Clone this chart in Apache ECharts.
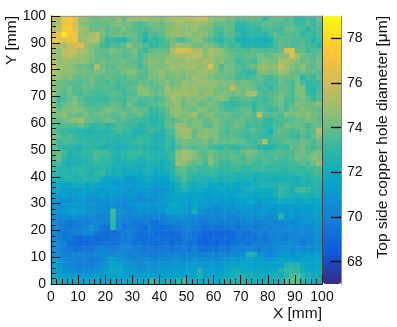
<!DOCTYPE html>
<html>
<head>
<meta charset="utf-8">
<style>html,body{margin:0;padding:0;background:#fff}#chart{width:397px;height:327px}</style>
<script src="https://cdn.jsdelivr.net/npm/echarts@6/dist/echarts.min.js"></script>
</head>
<body>
<div id="chart"></div>
<script>
// cell lower edges in mm, 2 mm bins
var xBins = [0,2,4,6,8,10,12,14,16,18,20,22,24,26,28,30,32,34,36,38,40,42,44,46,48,50,52,54,56,58,60,62,64,66,68,70,72,74,76,78,80,82,84,86,88,90,92,94,96,98];
var yBins = [98,96,94,92,90,88,86,84,82,80,78,76,74,72,70,68,66,64,62,60,58,56,54,52,50,48,46,44,42,40,38,36,34,32,30,28,26,24,22,20,18,16,14,12,10,8,6,4,2,0];
var barTicks = [68,70,72,74,76,78];
// top row first
var diameter = [
[75.6,75.4,77.0,77.4,76.6,75.0,74.6,74.2,73.9,74.2,74.4,74.0,74.6,73.9,75.0,74.8,74.8,74.9,74.6,74.5,74.4,74.7,75.3,75.1,75.3,75.4,75.5,75.8,75.8,74.6,74.4,74.5,74.2,74.2,73.7,73.8,73.9,74.0,74.0,72.9,73.8,74.0,74.0,73.6,73.7,73.0,73.0,73.4,73.2,74.0],
[75.0,75.2,76.9,77.2,76.2,74.8,74.3,74.2,74.0,74.0,73.9,74.2,74.5,74.0,74.3,73.8,73.6,73.9,74.2,74.2,74.0,74.5,74.4,75.0,74.9,74.8,75.0,75.0,74.6,74.4,73.9,74.0,73.8,73.8,73.0,72.9,73.2,73.3,73.5,73.8,73.9,73.6,73.5,73.6,73.8,73.1,73.2,73.7,73.0,73.7],
[75.2,75.6,77.4,77.6,76.4,75.0,74.8,74.0,73.9,74.3,73.5,74.0,73.9,74.4,73.9,73.7,73.6,73.5,73.8,74.1,73.9,74.4,74.7,74.8,74.3,74.6,74.9,74.4,74.3,74.1,73.6,73.4,74.0,73.7,72.6,72.7,73.0,73.1,73.1,73.4,73.6,73.4,73.3,73.9,73.9,73.7,73.3,72.8,73.4,73.5],
[76.4,76.6,78.4,77.0,77.0,74.9,74.6,74.9,75.4,74.3,73.8,74.0,74.2,73.9,74.1,73.9,73.5,72.9,73.6,73.6,73.8,74.4,74.6,75.0,74.5,74.9,74.4,74.7,74.6,74.0,73.4,73.2,73.8,73.6,73.2,72.6,72.9,73.0,73.0,72.8,73.3,73.8,73.4,73.7,73.6,73.6,73.0,73.4,73.1,73.4],
[77.0,76.6,76.6,76.8,77.2,74.8,75.0,75.3,75.5,73.9,73.0,73.2,73.0,72.7,73.5,73.9,73.4,72.3,73.3,73.0,73.3,73.8,74.2,73.6,73.4,74.0,74.5,74.6,73.8,73.5,73.0,72.8,73.3,73.4,72.4,72.3,72.3,72.4,72.3,72.2,72.4,73.4,73.8,73.7,73.6,73.4,73.6,73.2,72.7,73.3],
[75.6,75.4,75.0,75.8,76.0,76.4,75.0,74.4,74.2,73.4,73.2,73.6,73.4,73.8,74.8,74.0,73.9,73.6,73.0,73.2,73.4,73.6,74.4,75.0,74.6,74.5,74.2,74.0,74.5,74.2,73.9,73.3,73.6,73.2,73.4,72.7,72.6,72.8,72.6,72.5,73.0,73.4,73.9,73.6,73.4,73.5,73.7,73.4,73.3,72.9],
[75.0,74.8,75.6,75.7,75.9,75.2,75.0,74.4,74.0,73.7,74.0,74.4,74.1,73.8,74.0,74.4,73.6,73.3,73.8,73.9,74.0,73.9,75.2,76.1,76.3,76.0,75.2,75.4,74.3,75.3,74.8,74.6,73.9,73.7,73.5,73.6,73.4,73.8,73.6,73.5,73.7,73.4,73.9,76.0,76.6,74.0,73.9,73.2,73.5,73.6],
[75.2,74.6,75.4,75.8,75.3,74.9,74.6,74.5,73.9,73.8,73.6,73.9,74.0,73.6,73.8,74.1,73.3,74.0,74.2,74.2,74.3,74.4,74.8,75.2,75.0,75.3,75.6,75.3,74.6,75.0,74.7,74.5,74.3,73.9,73.7,73.6,74.0,73.8,74.2,73.9,73.9,74.2,74.4,74.4,76.2,75.0,74.1,73.8,73.6,74.0],
[75.4,74.8,74.9,74.7,74.8,74.6,74.5,74.1,73.9,74.3,74.0,73.9,74.0,74.2,73.9,73.7,73.5,74.2,74.6,74.5,74.3,75.0,74.8,74.6,74.8,75.0,74.9,74.8,75.3,75.1,74.4,74.8,74.0,74.0,73.2,73.5,73.6,73.3,74.2,74.5,74.3,74.2,75.3,75.2,74.7,74.4,73.9,74.1,73.8,74.2],
[76.2,75.0,74.8,74.6,74.3,74.0,74.1,73.6,75.6,74.2,73.8,73.6,74.1,74.0,73.9,74.0,73.3,73.8,74.4,74.3,74.2,74.5,75.2,74.7,74.9,75.0,75.2,74.6,74.8,76.4,74.5,73.4,74.3,74.0,73.7,73.5,73.8,73.9,74.7,74.9,74.6,74.7,75.8,74.9,74.3,74.2,74.6,74.0,73.7,74.2],
[75.4,74.9,74.7,74.6,74.4,74.2,74.1,74.0,74.3,74.2,73.8,74.0,73.8,74.2,74.5,74.3,73.9,73.7,74.1,74.5,74.9,74.4,74.5,74.6,74.4,74.8,74.5,74.9,75.0,74.6,74.4,73.9,74.2,74.1,73.5,73.3,73.0,73.2,74.2,74.5,74.2,74.3,74.9,74.8,74.0,73.8,74.2,73.8,74.0,73.6],
[75.0,74.7,74.2,74.5,73.9,73.8,73.9,74.3,73.8,73.7,73.9,73.8,73.6,73.5,73.9,74.0,73.6,73.8,74.3,74.2,74.6,74.1,74.2,74.4,74.2,74.5,75.0,74.6,74.7,74.3,74.0,74.2,73.9,73.8,73.3,73.5,73.3,73.6,73.9,73.6,73.3,73.7,74.2,73.9,74.0,74.1,72.8,73.5,73.1,73.9],
[74.5,74.1,73.9,73.7,73.8,73.6,73.8,74.2,73.7,73.6,73.3,73.8,73.4,73.7,73.5,73.6,74.1,73.9,73.7,74.0,74.2,74.5,74.0,74.3,74.8,74.6,74.7,74.9,75.0,74.6,74.7,74.3,74.3,74.4,73.9,74.2,74.0,73.8,73.6,73.3,73.5,73.3,74.0,73.6,73.3,74.3,73.4,73.0,73.1,73.3],
[74.6,74.1,73.8,74.2,73.5,73.7,74.0,73.9,73.5,73.6,73.7,73.4,73.2,73.3,73.7,73.9,74.7,74.3,73.9,73.7,73.9,75.0,74.4,74.6,75.0,74.8,74.9,74.7,74.5,74.8,74.4,74.0,74.2,75.8,74.2,74.0,74.2,73.9,73.3,73.5,73.0,73.6,73.8,73.9,73.4,74.3,74.4,73.0,72.9,73.4],
[75.0,73.9,73.7,74.0,73.6,73.3,73.8,73.5,73.3,73.4,73.5,73.8,73.7,73.3,73.5,73.7,74.3,74.7,74.2,73.9,74.1,74.8,75.0,75.2,75.0,75.1,74.9,74.4,74.7,74.8,74.2,74.3,74.3,74.1,74.3,74.2,75.0,75.2,73.8,73.4,73.7,73.8,74.2,73.9,73.5,74.4,74.3,73.3,73.0,73.6],
[74.4,73.2,73.5,73.9,74.3,73.6,73.3,73.4,73.1,73.2,73.2,73.6,73.3,73.2,73.8,73.9,73.6,73.5,73.7,73.3,73.6,74.2,75.0,74.7,74.2,74.6,74.3,74.6,74.3,74.0,74.3,74.6,74.2,73.4,73.6,73.8,73.9,73.6,73.4,73.2,73.5,74.0,74.2,73.5,73.4,74.0,74.2,73.8,73.1,73.6],
[74.6,73.5,73.9,74.1,74.5,73.9,73.6,73.3,73.4,73.5,73.6,73.9,73.8,73.3,74.2,73.7,73.3,73.4,73.6,73.7,73.9,74.3,74.4,74.8,74.0,74.3,74.5,73.8,74.1,74.3,74.0,73.5,73.2,73.0,73.2,73.4,73.5,73.0,73.5,73.3,73.6,73.7,74.1,73.3,73.7,74.4,74.2,74.0,74.2,74.6],
[74.8,73.9,74.2,74.3,74.5,74.4,74.0,73.8,73.6,74.0,74.3,74.2,74.0,73.8,73.8,74.1,73.7,73.8,73.2,73.3,73.5,73.9,74.7,74.9,74.4,74.1,73.9,74.5,74.3,74.0,74.2,73.7,73.4,73.3,73.6,73.8,73.9,73.1,73.7,73.5,73.2,73.3,73.9,73.6,74.2,74.0,74.5,74.2,73.9,73.7],
[74.3,74.3,74.6,74.0,74.1,73.8,74.2,73.7,73.9,74.1,74.0,73.7,73.8,74.1,73.6,73.8,73.9,73.5,72.9,73.0,73.3,73.8,74.4,74.7,74.2,74.6,75.2,74.0,74.3,74.4,74.0,73.9,74.1,73.7,73.6,73.8,74.0,73.5,76.0,73.8,73.6,73.8,73.4,74.3,74.0,74.5,74.3,74.6,74.0,74.0],
[74.0,73.8,74.1,74.3,74.6,75.0,74.1,73.9,73.5,73.8,74.2,73.9,73.6,73.7,73.5,73.3,73.3,73.2,72.8,72.7,73.2,73.8,73.6,74.0,74.4,74.1,74.3,74.2,73.9,74.0,74.4,73.9,73.7,73.8,73.9,74.0,73.6,73.5,73.6,73.3,73.0,73.3,73.7,73.4,73.8,74.0,73.9,74.3,74.1,73.7],
[73.7,73.5,73.7,73.6,73.5,73.9,73.6,72.9,73.0,73.3,72.8,73.1,73.6,73.3,73.2,73.2,72.8,73.0,73.1,72.9,73.0,73.8,74.0,74.9,74.7,74.2,74.3,74.4,73.8,73.6,74.3,74.0,73.5,73.8,74.1,73.7,73.3,73.5,73.4,72.9,73.1,73.6,73.5,74.2,73.9,74.1,73.8,73.4,73.9,74.0],
[74.0,73.4,73.2,72.9,73.0,72.8,72.7,72.6,72.9,72.8,72.7,73.1,73.5,73.2,73.1,72.6,72.6,72.8,73.3,73.0,72.6,73.3,73.6,74.8,75.0,75.0,74.0,74.3,74.6,74.3,74.2,73.8,73.4,73.9,73.7,73.5,73.5,73.7,73.4,73.1,72.3,73.6,73.9,73.7,73.4,73.6,74.0,73.6,73.8,75.5],
[74.3,73.9,73.3,73.6,73.2,72.9,72.8,73.0,72.7,72.9,72.9,73.0,72.8,72.9,73.0,72.6,73.0,73.2,72.7,72.6,72.5,73.2,73.4,74.5,74.8,74.9,73.9,74.5,74.8,74.3,74.4,73.7,73.6,73.8,73.5,73.4,73.2,73.4,73.3,72.9,73.2,73.7,73.6,73.5,73.4,73.2,73.8,73.3,73.9,74.6],
[74.2,73.2,73.5,73.3,73.4,73.1,73.2,73.0,72.9,73.1,72.8,72.7,72.6,72.8,72.9,73.1,73.3,73.1,72.9,72.5,72.6,73.2,73.0,73.9,74.2,74.0,74.1,73.9,74.3,73.7,74.2,73.9,73.9,74.0,73.9,73.8,73.4,73.2,73.6,75.5,73.2,73.4,73.6,74.0,73.7,73.8,74.1,73.9,73.4,73.9],
[73.6,73.1,72.7,72.9,72.8,72.6,72.9,73.0,72.7,72.4,72.5,72.7,72.3,72.5,72.8,72.7,72.9,72.6,72.5,72.4,72.6,73.1,72.9,73.6,74.0,73.9,73.5,73.7,73.9,73.4,73.2,73.0,73.4,73.0,73.1,73.3,73.6,73.4,72.8,72.6,72.5,73.0,73.3,73.1,74.0,73.8,74.2,73.6,73.4,73.7],
[73.8,73.9,73.4,72.5,72.8,72.9,73.0,73.2,73.5,73.4,73.3,72.8,72.6,72.9,73.1,73.2,73.3,72.9,72.8,72.5,72.6,73.0,73.2,74.8,75.0,74.8,74.4,73.8,73.7,74.1,73.9,73.5,73.6,73.7,73.4,74.0,74.4,74.2,73.7,73.3,73.5,73.6,73.7,73.6,73.4,74.0,74.2,73.7,74.1,74.3],
[73.5,74.0,73.0,72.4,72.6,72.7,72.8,73.1,73.4,73.0,73.2,72.7,72.4,72.8,73.0,72.9,72.6,72.7,72.9,72.6,72.5,72.8,73.3,74.6,75.0,74.7,74.4,74.1,73.6,74.4,73.8,73.6,73.5,73.9,73.7,73.4,74.0,73.7,73.4,73.6,73.3,73.7,73.4,73.3,73.6,74.2,73.8,74.1,74.6,74.2],
[73.2,73.4,72.6,72.2,72.4,72.5,72.6,72.9,73.2,73.0,72.9,72.6,72.1,72.3,72.6,72.3,72.4,72.3,72.5,72.4,72.0,72.4,73.0,75.0,74.6,74.2,73.8,73.9,73.3,74.4,73.6,73.2,73.1,73.5,73.6,73.4,73.7,73.3,73.2,73.5,73.4,73.2,73.1,73.1,73.3,73.5,73.8,73.5,74.1,74.7],
[73.3,72.8,72.7,72.6,72.9,73.0,72.8,72.5,72.6,73.0,72.7,72.2,72.3,72.0,72.2,72.3,72.0,72.4,72.3,71.9,72.0,72.5,72.7,73.7,73.9,73.4,73.5,73.2,73.1,73.4,73.3,73.0,73.1,73.2,73.3,73.0,72.9,73.2,73.3,73.1,73.0,73.2,73.0,72.9,73.3,73.1,73.0,73.4,73.3,73.6],
[72.9,72.6,72.8,72.5,72.7,72.9,72.6,72.4,72.9,73.1,72.3,72.1,72.4,71.9,72.0,71.8,71.9,72.2,72.1,71.7,71.9,72.0,72.6,73.4,73.6,73.3,73.2,72.8,73.0,73.1,73.0,72.7,72.8,72.9,72.6,72.7,72.8,72.5,72.4,72.6,72.7,72.6,72.8,72.5,72.7,72.9,73.0,72.9,73.2,73.3],
[72.4,72.2,72.5,72.7,72.4,72.6,72.8,72.6,72.8,72.0,71.9,71.5,71.7,71.6,70.9,71.2,71.5,71.9,72.0,71.6,71.3,71.5,72.3,72.7,73.5,73.0,72.6,72.8,72.5,72.3,72.6,72.2,72.4,72.5,72.2,72.4,72.3,72.0,72.3,72.1,72.4,72.0,72.3,72.2,72.4,72.1,72.6,72.5,72.9,73.0],
[71.8,71.9,71.7,71.6,72.0,72.1,71.6,71.9,71.7,71.5,71.4,71.2,71.0,71.1,71.3,71.0,71.4,71.5,71.3,71.2,71.1,71.4,71.6,72.2,72.9,72.3,72.0,72.2,72.4,71.7,72.0,71.6,71.9,72.0,71.5,72.0,71.8,72.2,72.4,72.6,72.4,72.6,72.9,72.8,72.5,72.3,72.6,72.4,72.7,72.8],
[71.6,71.8,71.3,71.2,71.5,71.3,71.5,71.6,71.2,71.0,71.2,71.4,71.2,71.0,70.9,71.1,71.2,71.0,70.9,70.6,70.8,71.1,71.3,72.0,72.3,72.0,71.7,71.9,71.5,71.4,71.6,71.8,71.5,71.7,71.4,71.9,72.3,72.0,72.0,71.8,71.9,72.2,73.1,72.6,72.4,73.3,73.5,73.1,72.6,72.6],
[71.3,71.2,71.4,71.0,71.2,71.4,71.2,71.0,71.1,71.3,71.0,71.2,71.0,70.7,71.0,70.8,70.6,70.9,71.1,70.8,71.0,71.3,71.5,71.9,71.7,71.5,71.4,71.6,71.2,71.3,71.5,71.2,71.6,71.4,71.7,72.0,71.8,71.6,71.9,72.0,71.7,72.3,73.0,72.7,72.4,72.1,72.5,72.4,72.3,72.4],
[71.0,70.8,70.6,70.5,70.9,71.1,70.8,70.6,70.5,70.7,70.6,70.8,70.5,70.4,70.7,70.6,70.3,70.6,70.5,70.7,71.0,71.3,71.4,71.6,71.4,71.2,71.5,71.3,71.4,71.0,71.2,70.9,71.3,71.1,71.4,71.3,71.7,71.5,71.2,71.3,71.5,71.6,72.2,71.8,71.9,71.6,71.8,71.9,71.6,71.8],
[70.9,70.7,70.9,71.1,71.2,71.0,70.8,70.9,70.6,70.4,70.3,70.6,70.4,70.2,70.5,70.7,70.9,71.0,70.8,70.9,70.7,71.2,71.7,71.6,71.2,71.0,71.6,71.2,71.0,70.9,70.6,70.8,71.0,70.7,71.1,70.9,71.2,71.0,70.8,71.1,71.3,71.0,71.3,71.2,71.4,71.2,71.5,71.3,71.4,71.6],
[71.0,70.9,71.1,71.5,71.6,71.3,71.0,70.8,70.5,70.7,70.5,73.3,70.8,70.6,70.3,70.5,70.8,70.6,70.7,70.5,70.9,71.6,71.4,71.5,71.3,71.0,72.3,70.9,70.6,70.4,70.3,70.5,70.6,70.8,70.5,70.9,71.0,70.7,70.9,71.1,70.8,71.0,71.2,71.0,71.3,71.0,71.2,71.1,71.4,71.5],
[70.6,70.3,70.5,70.4,70.6,70.3,70.2,70.5,70.1,69.9,70.3,73.2,70.6,70.2,70.0,70.2,70.3,70.1,69.9,70.2,70.0,70.3,70.5,70.6,70.8,70.5,70.4,70.2,70.0,70.2,70.1,70.3,70.4,70.0,70.2,70.4,70.7,70.5,70.9,70.6,70.4,70.8,72.8,70.9,71.1,70.7,70.9,71.0,71.3,71.2],
[70.7,70.1,69.9,69.6,69.8,70.0,69.7,70.1,70.3,70.2,70.0,73.0,70.2,69.7,69.9,69.6,69.8,70.0,69.5,69.4,69.7,69.9,70.1,70.0,70.3,70.2,70.0,69.8,69.7,69.9,70.1,69.8,70.0,70.2,69.8,70.1,70.3,70.0,69.9,70.3,70.5,70.1,70.3,70.5,70.2,70.6,70.8,71.0,70.7,71.1],
[70.5,70.0,69.7,69.5,70.0,69.8,70.1,71.2,70.2,69.4,69.3,72.8,70.3,69.5,69.8,69.7,69.4,69.2,69.7,69.3,69.1,69.3,69.5,69.7,70.0,70.2,69.8,69.6,69.4,69.6,69.3,69.5,69.7,69.9,69.6,69.8,70.0,69.7,69.9,70.2,70.0,70.3,70.1,70.4,70.6,70.3,70.5,70.4,70.6,70.9],
[70.4,70.0,69.6,69.8,69.9,70.1,70.4,70.2,69.5,69.3,69.0,69.1,69.3,69.7,69.9,69.6,69.3,69.4,69.6,69.0,69.1,69.2,69.0,69.4,69.7,69.9,69.4,69.3,68.9,68.8,68.9,68.7,68.8,69.2,69.5,69.6,69.3,69.7,70.0,69.8,70.1,70.0,70.3,70.2,70.0,70.3,70.6,70.2,70.4,70.7],
[70.6,70.1,69.7,69.8,69.3,69.0,69.1,69.3,69.0,69.2,69.1,69.3,69.5,69.8,70.0,69.6,69.3,69.2,69.4,69.5,69.2,69.4,69.3,69.1,69.6,69.8,69.4,69.0,68.8,69.0,69.2,69.0,69.3,69.1,69.6,69.4,69.7,69.3,69.8,69.5,69.9,70.2,70.0,69.8,70.2,70.4,69.9,70.1,70.3,70.5],
[70.8,70.3,70.0,69.4,69.1,68.9,69.0,69.2,69.3,69.5,69.6,69.4,69.7,70.0,69.9,69.5,69.7,69.4,69.3,69.1,69.3,69.6,69.1,69.5,69.7,69.3,69.6,69.1,68.9,69.1,68.8,69.3,69.0,69.4,69.5,69.7,69.4,69.8,69.9,69.7,70.0,70.3,70.1,70.3,70.5,70.2,69.6,70.1,70.4,70.6],
[70.7,70.2,69.8,69.5,69.3,69.4,69.7,69.6,69.8,70.2,70.0,69.7,70.0,70.3,70.2,69.9,69.8,69.6,69.7,69.5,69.6,69.7,69.5,69.7,69.9,69.5,70.1,69.4,69.2,69.4,69.3,69.7,69.6,69.9,70.2,70.0,70.3,70.0,69.8,70.2,70.1,70.4,70.6,70.5,70.3,70.5,70.3,70.6,70.4,70.7],
[70.9,70.5,70.1,69.8,70.0,70.2,69.9,70.1,70.3,70.6,70.4,70.2,70.5,70.3,70.0,70.2,70.0,69.9,69.7,69.9,69.8,70.1,69.9,70.2,70.0,70.4,70.3,70.0,69.9,70.2,70.0,70.3,70.1,70.5,70.4,70.6,72.5,72.4,70.7,70.5,70.2,70.7,70.9,71.0,70.7,71.1,70.8,71.5,71.0,71.2],
[71.2,70.8,70.3,70.1,70.3,70.0,69.9,69.7,70.0,70.2,71.0,71.2,70.8,70.6,70.4,70.1,70.3,70.5,70.2,70.4,70.5,70.3,70.4,70.6,70.3,70.5,70.8,70.5,70.7,70.6,70.4,70.7,70.9,71.2,71.0,71.3,71.5,71.4,71.2,71.0,70.8,71.2,71.6,71.3,71.5,71.2,71.4,71.2,71.5,71.6],
[71.3,71.0,70.5,70.2,70.0,69.8,69.9,69.8,70.1,70.5,71.0,71.6,71.5,70.9,70.7,70.6,70.4,70.6,70.7,70.5,70.8,70.6,70.9,71.0,70.8,71.1,71.4,71.0,70.9,71.1,70.9,71.1,71.3,71.6,71.4,71.7,71.5,71.2,71.4,71.3,71.6,71.5,71.3,72.3,72.8,72.6,71.8,71.6,71.4,71.7],
[71.6,71.2,70.8,70.6,70.4,70.2,70.4,70.3,70.5,71.1,71.3,71.8,71.9,71.4,71.1,71.0,70.8,70.9,71.1,70.8,71.0,71.2,71.1,71.3,71.2,71.4,71.3,72.6,71.3,71.4,71.1,71.4,71.6,72.0,72.1,71.7,71.9,71.6,71.8,71.5,71.9,71.7,72.6,73.0,73.2,72.9,72.2,71.9,71.7,71.8],
[72.0,71.6,71.2,71.1,71.0,70.8,71.0,70.8,71.3,71.1,71.2,71.4,71.5,71.3,71.4,71.1,71.3,71.2,71.5,71.3,71.2,71.4,71.2,71.5,71.3,71.6,71.5,72.4,71.4,71.7,71.5,71.7,71.9,72.2,72.4,72.6,72.3,72.1,71.9,71.8,72.0,72.3,72.0,72.8,73.4,73.6,72.7,72.2,72.0,71.9],
[72.6,72.2,71.8,71.6,71.9,71.7,71.5,71.8,71.6,71.4,71.6,71.8,71.5,71.7,71.9,71.8,71.6,71.9,73.2,72.4,72.0,72.6,72.0,73.0,73.1,72.2,72.0,71.9,72.1,71.8,71.6,71.9,72.2,72.5,72.3,72.6,72.4,72.2,72.0,72.3,72.1,72.2,72.5,73.6,73.9,73.7,72.7,72.4,72.0,72.2]
];
var birdColors = ['#352a87','#0f5cdd','#1481d6','#06a4ca','#2eb7a4','#87bf77','#d1bb59','#fec832','#f9fb0e'];

var cells = [];
diameter.forEach(function(row, j){
    row.forEach(function(v, i){
        cells.push([i, j, v]);
    });
});

var labelFont = {color: '#111', fontFamily: 'Liberation Sans', fontSize: 14};
var titleFont = {fill: '#111', fontFamily: 'Liberation Sans', fontSize: 15.5, textAlign: 'right', textVerticalAlign: 'middle'};

var myChart = echarts.init(document.getElementById('chart'), null, {renderer: 'canvas'});
var option = {
    animation: false,
    grid: [
        {left: 51, top: 16, width: 271, height: 268},
        {left: 323, top: 16, width: 18, height: 268}
    ],
    xAxis: [
        {type: 'category', data: xBins, show: false, gridIndex: 0},
        {
            type: 'value', min: 0, max: 100, interval: 10, position: 'bottom', gridIndex: 0, z: 5,
            axisLine: {onZero: false, lineStyle: {color: '#111'}},
            axisTick: {inside: true, length: 9, lineStyle: {color: '#111'}},
            minorTick: {show: true, splitNumber: 5, length: 5, lineStyle: {color: '#111'}},
            splitLine: {show: false},
            axisLabel: Object.assign({margin: 6, showMaxLabel: true, showMinLabel: true}, labelFont)
        },
        {
            type: 'value', min: 0, max: 100, position: 'top', gridIndex: 0, z: 5,
            axisLine: {onZero: false, lineStyle: {color: '#999'}},
            axisTick: {show: false}, axisLabel: {show: false}, splitLine: {show: false}
        },
        {type: 'value', min: 0, max: 1, show: false, gridIndex: 1}
    ],
    yAxis: [
        {type: 'category', data: yBins, inverse: true, show: false, gridIndex: 0},
        {
            type: 'value', min: 0, max: 100, interval: 10, position: 'left', gridIndex: 0, z: 5,
            axisLine: {onZero: false, lineStyle: {color: '#111'}},
            axisTick: {inside: true, length: 9, lineStyle: {color: '#111'}},
            minorTick: {show: true, splitNumber: 5, length: 5, lineStyle: {color: '#111'}},
            splitLine: {show: false},
            axisLabel: Object.assign({margin: 5, showMaxLabel: true, showMinLabel: true}, labelFont)
        },
        {
            type: 'value', min: 0, max: 100, position: 'right', gridIndex: 0, z: 5,
            axisLine: {onZero: false, lineStyle: {color: '#444'}},
            axisTick: {show: false}, axisLabel: {show: false}, splitLine: {show: false}
        },
        {
            type: 'value', min: 67, max: 79, position: 'right', gridIndex: 1, z: 5,
            axisLine: {onZero: false, lineStyle: {color: '#888'}},
            axisTick: {inside: true, length: 10, customValues: barTicks, lineStyle: {color: '#000', width: 1.3}},
            splitLine: {show: false},
            axisLabel: Object.assign({margin: 6, customValues: barTicks}, labelFont)
        }
    ],
    visualMap: {
        type: 'continuous', seriesIndex: 0, min: 67, max: 79, calculable: false, realtime: false,
        left: 323, top: 16, itemWidth: 18, itemHeight: 268, padding: 0, z: 1,
        text: null, showLabel: false, inRange: {color: birdColors}
    },
    series: [{
        type: 'heatmap', xAxisIndex: 0, yAxisIndex: 0, data: cells,
        progressive: 0, emphasis: {disabled: true}
    }],
    graphic: [
        {type: 'text', x: 322, y: 314, style: Object.assign({text: 'X [mm]'}, titleFont)},
        {type: 'text', x: 12, y: 16, rotation: Math.PI / 2, style: Object.assign({text: 'Y [mm]'}, titleFont)},
        {type: 'text', x: 383, y: 16, rotation: Math.PI / 2, style: Object.assign({text: 'Top side copper hole diameter [\u03bcm]'}, titleFont)}
    ]
};
myChart.setOption(option);
</script>
</body>
</html>
